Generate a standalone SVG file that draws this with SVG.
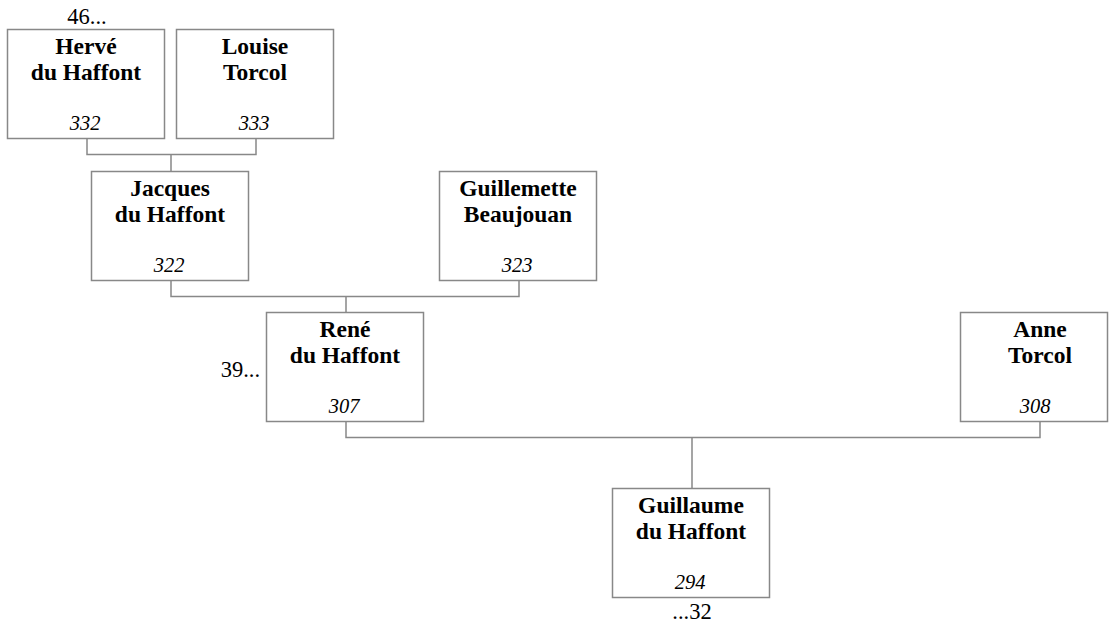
<svg xmlns="http://www.w3.org/2000/svg" width="1109" height="626" viewBox="0 0 1109 626">
<style>
.box{fill:#fff;stroke:#888;stroke-width:1.5}
.nm{font-family:"Liberation Serif","Times New Roman",serif;font-weight:bold;font-size:23.5px;text-anchor:middle;fill:#000}
.num{font-family:"Liberation Serif","Times New Roman",serif;font-style:italic;font-size:20.5px;text-anchor:middle;fill:#000}
.ref{font-family:"Liberation Serif","Times New Roman",serif;font-size:22.5px;fill:#000}
.conn{fill:none;stroke:#888;stroke-width:1.5}
</style>
<rect width="1109" height="626" fill="#fff"/>
<g id="connectors">
<path class="conn" d="M87,138.5 V154.5 H256 V138.5 M171,154.5 V171.5"/>
<path class="conn" d="M171,280.5 V296.5 H519 V280.5 M346,296.5 V312.5"/>
<path class="conn" d="M346,421.5 V437.5 H1040 V421.5 M692,437.5 V488.5"/>
</g>
<g id="n332">
<rect class="box" x="7.5" y="29.5" width="157" height="109"/>
<text class="nm" x="86" y="54">Hervé</text>
<text class="nm" x="86" y="80">du Haffont</text>
<text class="num" x="85" y="130">332</text>
</g>
<g id="n333">
<rect class="box" x="176.5" y="29.5" width="157" height="109"/>
<text class="nm" x="255" y="54">Louise</text>
<text class="nm" x="255" y="80">Torcol</text>
<text class="num" x="254" y="130">333</text>
</g>
<g id="n322">
<rect class="box" x="91.5" y="171.5" width="157" height="109"/>
<text class="nm" x="170" y="196">Jacques</text>
<text class="nm" x="170" y="222">du Haffont</text>
<text class="num" x="169" y="272">322</text>
</g>
<g id="n323">
<rect class="box" x="439.5" y="171.5" width="157" height="109"/>
<text class="nm" x="518" y="196">Guillemette</text>
<text class="nm" x="518" y="222">Beaujouan</text>
<text class="num" x="517" y="272">323</text>
</g>
<g id="n307">
<rect class="box" x="266.5" y="312.5" width="157" height="109"/>
<text class="nm" x="345" y="337">René</text>
<text class="nm" x="345" y="363">du Haffont</text>
<text class="num" x="344" y="413">307</text>
</g>
<g id="n308">
<rect class="box" x="960.5" y="312.5" width="147" height="109"/>
<text class="nm" x="1040" y="337">Anne</text>
<text class="nm" x="1040" y="363">Torcol</text>
<text class="num" x="1035" y="413">308</text>
</g>
<g id="n294">
<rect class="box" x="612.5" y="488.5" width="157" height="109"/>
<text class="nm" x="691" y="513">Guillaume</text>
<text class="nm" x="691" y="539">du Haffont</text>
<text class="num" x="690" y="589">294</text>
</g>
<g id="refs">
<text class="ref" x="87" y="24" text-anchor="middle">46...</text>
<text class="ref" x="260" y="377" text-anchor="end">39...</text>
<text class="ref" x="692" y="619" text-anchor="middle">...32</text>
</g>
</svg>
